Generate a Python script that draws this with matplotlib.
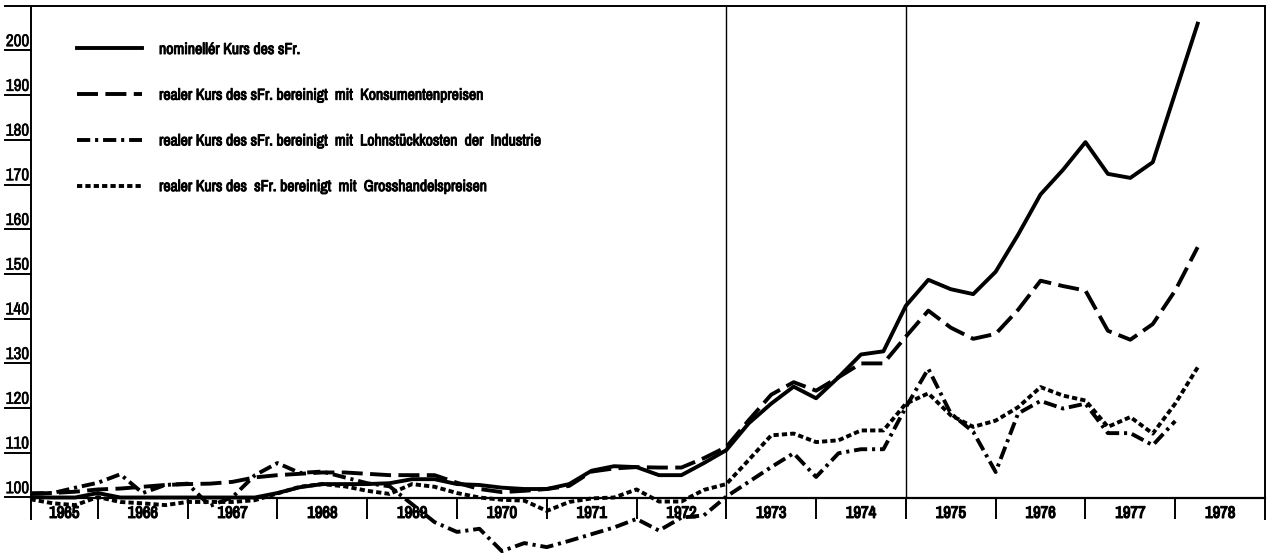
import matplotlib
matplotlib.use('Agg')
import matplotlib.pyplot as plt
from matplotlib import font_manager as fm
from matplotlib import patheffects
import numpy as np

# Quartalswerte, Index 1965 = 100
quartale = np.arange(1965.25, 1978.26, 0.25)

nominell = [100.1, 100, 100, 101.0, 100, 100, 100, 100, 100, 100, 100,
            101, 102.3, 103, 103, 103, 103.2, 104.1, 104.1, 103, 102.8, 102.2, 101.9,
            101.9, 103, 106, 107, 106.8, 105, 105, 107.7, 110.6, 116.6, 121, 124.8,
            122.2, 126.9, 132, 132.7, 142.9, 148.7, 146.6, 145.5, 150.5, 158.8,
            167.8, 173.3, 179.5, 172.4, 171.5, 175, 190.5, 206]

konsumenten = [100.9, 101, 101.3, 101.8, 102, 102.4, 102.8, 103, 103.1, 103.5, 104.5,
               105, 105.3, 105.6, 105.6, 105.3, 105, 105, 105, 103.3, 101.9, 101.2, 101.5,
               101.9, 102.6, 105.8, 106.5, 106.8, 106.7, 106.7, 108.8, 111.3, 117.3, 123,
               125.8, 123.9, 126.9, 130, 130, 136, 141.8, 138, 135.5, 136.6, 142,
               148.5, 147.3, 146.3, 137.3, 135.3, 138.8, 146.3, 156]

lohnkosten = [100.9, 101, 102.2, 103.3, 105.2, 101, 102.8, 103.1, 98.1, 100.1, 105,
              107.7, 105.5, 105.8, 104.5, 103.2, 102.5, 98.5, 94.5, 92.3, 93, 88, 89.8,
              88.9, 90.3, 91.8, 93.3, 95.2, 92.6, 95.5, 96, 100.2, 103.5, 106.8, 109.9,
              104.6, 109.9, 110.8, 110.8, 120.2, 128.8, 118.8, 114.7, 105.7, 118.8,
              121.6, 119.9, 121, 114.4, 114.4, 111.7, 117.1, np.nan]

grosshandel = [99.6, 98.7, 98.3, 100.1, 99, 98.7, 98.3, 99, 99, 99, 99.4,
               100.9, 102.4, 103, 102.5, 101.5, 100.8, 103, 102.4, 101, 100, 99.5, 99.3,
               97, 99, 99.8, 100, 101.8, 99.1, 99.1, 101.7, 103, 108.4, 113.9, 114.3,
               112.4, 112.8, 115, 115, 121, 123.3, 118.4, 115.8, 117.2, 120.2,
               124.7, 122.8, 121.7, 115.8, 118, 114.3, 121, 129.1]

jahre = list(range(1965, 1979))
y_ticks = list(range(100, 201, 10))

labels = ['nominellér Kurs des sFr.',
          'realer Kurs des sFr. bereinigt  mit  Konsumentenpreisen',
          'realer Kurs des sFr. bereinigt  mit  Lohnstückkosten  der  Industrie',
          'realer Kurs des  sFr. bereinigt  mit  Grosshandelspreisen']


def ist_fett(f):
    return f.weight in (700, 'bold', '700')


def ist_normal(f):
    return f.weight in (400, 'normal', 'regular', 'book', '400')


# schmale, aufrechte Schrift (normal + fett aus derselben Familie)
def schriften():
    for merkmal in ('Narrow', 'Condensed'):
        cands = [f for f in fm.fontManager.ttflist
                 if merkmal in (f.name + f.fname) and f.style == 'normal'
                 and 'Mono' not in f.name and 'Serif' not in f.name
                 and 'Oblique' not in f.fname and 'Italic' not in f.fname]
        normal = [f for f in cands if ist_normal(f)]
        if normal:
            n = normal[0]
            fett = [f for f in cands if ist_fett(f) and f.name == n.name]
            b = fett[0] if fett else n
            return fm.FontProperties(fname=n.fname), fm.FontProperties(fname=b.fname)
    fp = fm.FontProperties(family=['Liberation Sans', 'DejaVu Sans'])
    return fp, fm.FontProperties(family=['Liberation Sans', 'DejaVu Sans'], weight='bold')


fig = plt.figure(figsize=(12.68, 5.56), dpi=100)
W, H = 1268, 556
renderer = fig.canvas.get_renderer()


# Schriftgrösse nach der Textbreite aus der Vorlage
def passend(text, fp, breite_px):
    fp = fp.copy()
    fp.set_size(10)
    w, h, d = renderer.get_text_width_height_descent(text, fp, ismath=False)
    fp.set_size(10 * breite_px / w)
    return fp


fp_normal, fp_fett = schriften()
fp_y = passend('200', fp_normal, 23)
fp_jahr = passend('1965', fp_fett, 30)
fp_leg = passend(labels[2], fp_normal, 384)


def strich(b):
    return [patheffects.withStroke(linewidth=b, foreground='black')]


ax = fig.add_axes([30.5 / W, 0, (1265 - 30.5) / W, 550 / H])

y_unten = 100 - (556 - 497.5) / 4.47
y_oben = 100 + (497.5 - 6) / 4.47
ax.set_xlim(1965.25, 1979.0)
ax.set_ylim(y_unten, y_oben)

lw = 2.8
ax.plot(quartale, nominell, color='black', lw=lw, label=labels[0])
ax.plot(quartale, konsumenten, color='black', lw=lw, label=labels[1],
        dashes=(5.4, 1.9))
ax.plot(quartale, lohnkosten, color='black', lw=lw, label=labels[2],
        dashes=(3.4, 1.25, 0.8, 1.25))
ax.plot(quartale, grosshandel, color='black', lw=lw, label=labels[3],
        dashes=(1.35, 0.8))

# Rahmen
for s in ['left', 'right', 'top']:
    ax.spines[s].set_linewidth(1.4)
ax.spines['left'].set_bounds(95.3, y_oben)
ax.spines['right'].set_bounds(95.3, y_oben)
ax.spines['bottom'].set_position(('data', 100))
ax.spines['bottom'].set_linewidth(1.6)

# senkrechte Trennlinien 1973 und 1975
ax.vlines([1973, 1975], 100, y_oben, color='black', lw=1.0)

# x-Achse: Jahresgrenzen und Jahreszahlen
ax.set_xticks(jahre[1:])
ax.set_xticklabels([])
ax.tick_params(axis='x', which='major', direction='out', length=15, width=1.4)
mitten = [(1965.25 + 1966) / 2] + [j + 0.5 for j in jahre[1:]]
ax.set_xticks(mitten, minor=True)
ax.set_xticklabels([str(j) for j in jahre], minor=True)
for t in ax.get_xticklabels(minor=True):
    t.set_fontproperties(fp_jahr)
    t.set_path_effects(strich(0.9))
ax.tick_params(axis='x', which='minor', length=0, pad=6)

# y-Achse: unterstrichene Zahlen
ax.set_yticks([])
x0 = 1965.25
for v in y_ticks:
    ax.text(x0 - 0.015, v + 0.3, str(v), ha='right', va='bottom',
            fontproperties=fp_y, clip_on=False, path_effects=strich(0.4))
    ax.plot([x0 - 25 / 89.5, x0], [v, v], color='black', lw=1.4, clip_on=False)

# Oberkante nach links verlängert
ax.plot([x0 - 25 / 89.5, x0], [y_oben, y_oben], color='black', lw=1.4, clip_on=False)

# Zeilenabstand der Legende wie die 10er-Schritte der y-Achse
fs_px = fp_leg.get_size_in_points() * 100 / 72
_, h_txt, _ = renderer.get_text_width_height_descent('Kg', fp_leg, ismath=False)
abstand = (44.7 - h_txt) / fs_px

leg = ax.legend(loc='upper left', bbox_to_anchor=(77 / W, 1 - 42 / H),
                bbox_transform=fig.transFigure, frameon=False,
                handlelength=65 / fs_px, handletextpad=17 / fs_px, labelspacing=abstand,
                borderpad=0, borderaxespad=0, prop=fp_leg)
for t in leg.get_texts():
    t.set_path_effects(strich(0.7))

fig.savefig('out.png', dpi=100)
